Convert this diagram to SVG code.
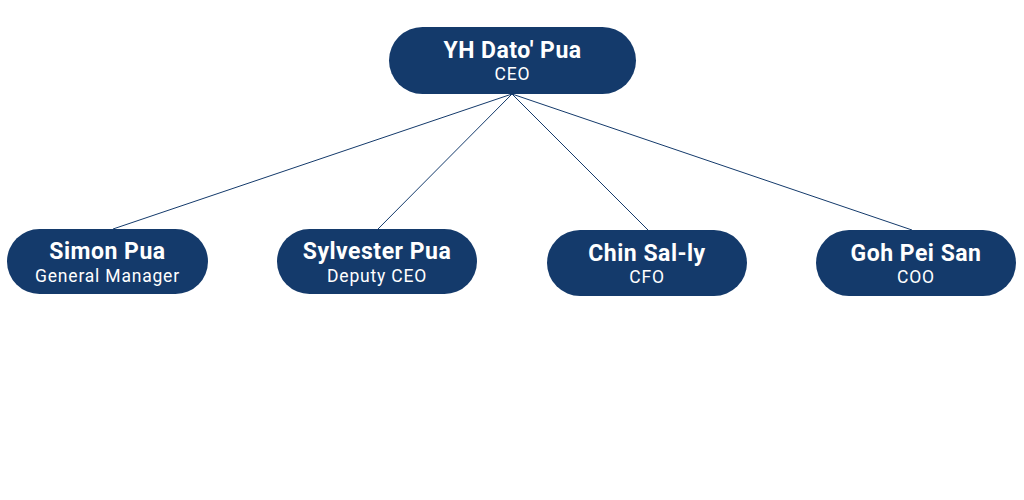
<svg xmlns="http://www.w3.org/2000/svg" width="1024" height="500" viewBox="0 0 1024 500">
<style>
.box{fill:#143a6b}
.n{font-family:Roboto,"Liberation Sans",sans-serif;font-weight:bold;font-size:23px;fill:#fff;text-anchor:middle;letter-spacing:0.5px}
.t{font-family:Roboto,"Liberation Sans",sans-serif;font-size:17.5px;fill:#fff;text-anchor:middle;letter-spacing:0.8px}
.c line{stroke:#143a6b;stroke-width:1}
</style>
<rect width="1024" height="500" fill="#fff"/>
<g id="connectors" class="c">
<line x1="512" y1="94" x2="113" y2="229"/>
<line x1="512" y1="94" x2="378" y2="229"/>
<line x1="512" y1="94" x2="648" y2="230"/>
<line x1="512" y1="94" x2="912" y2="230"/>
</g>
<g id="ceo"><rect class="box" x="389" y="27" width="247" height="67" rx="33.5"/><text class="n" x="512.5" y="58">YH Dato' Pua</text><text class="t" x="512.5" y="80">CEO</text></g>
<g id="simon"><rect class="box" x="7" y="229" width="201" height="65" rx="32.5"/><text class="n" x="107.5" y="259">Simon Pua</text><text class="t" x="107.5" y="282">General Manager</text></g>
<g id="sylvester"><rect class="box" x="277" y="229" width="200" height="65" rx="32.5"/><text class="n" x="377" y="259">Sylvester Pua</text><text class="t" x="377" y="282">Deputy CEO</text></g>
<g id="chin"><rect class="box" x="547" y="230" width="200" height="66" rx="33"/><text class="n" x="647" y="261">Chin Sal-ly</text><text class="t" x="647" y="283">CFO</text></g>
<g id="goh"><rect class="box" x="816" y="230" width="200" height="66" rx="33"/><text class="n" x="916" y="261">Goh Pei San</text><text class="t" x="916" y="283">COO</text></g>
</svg>
